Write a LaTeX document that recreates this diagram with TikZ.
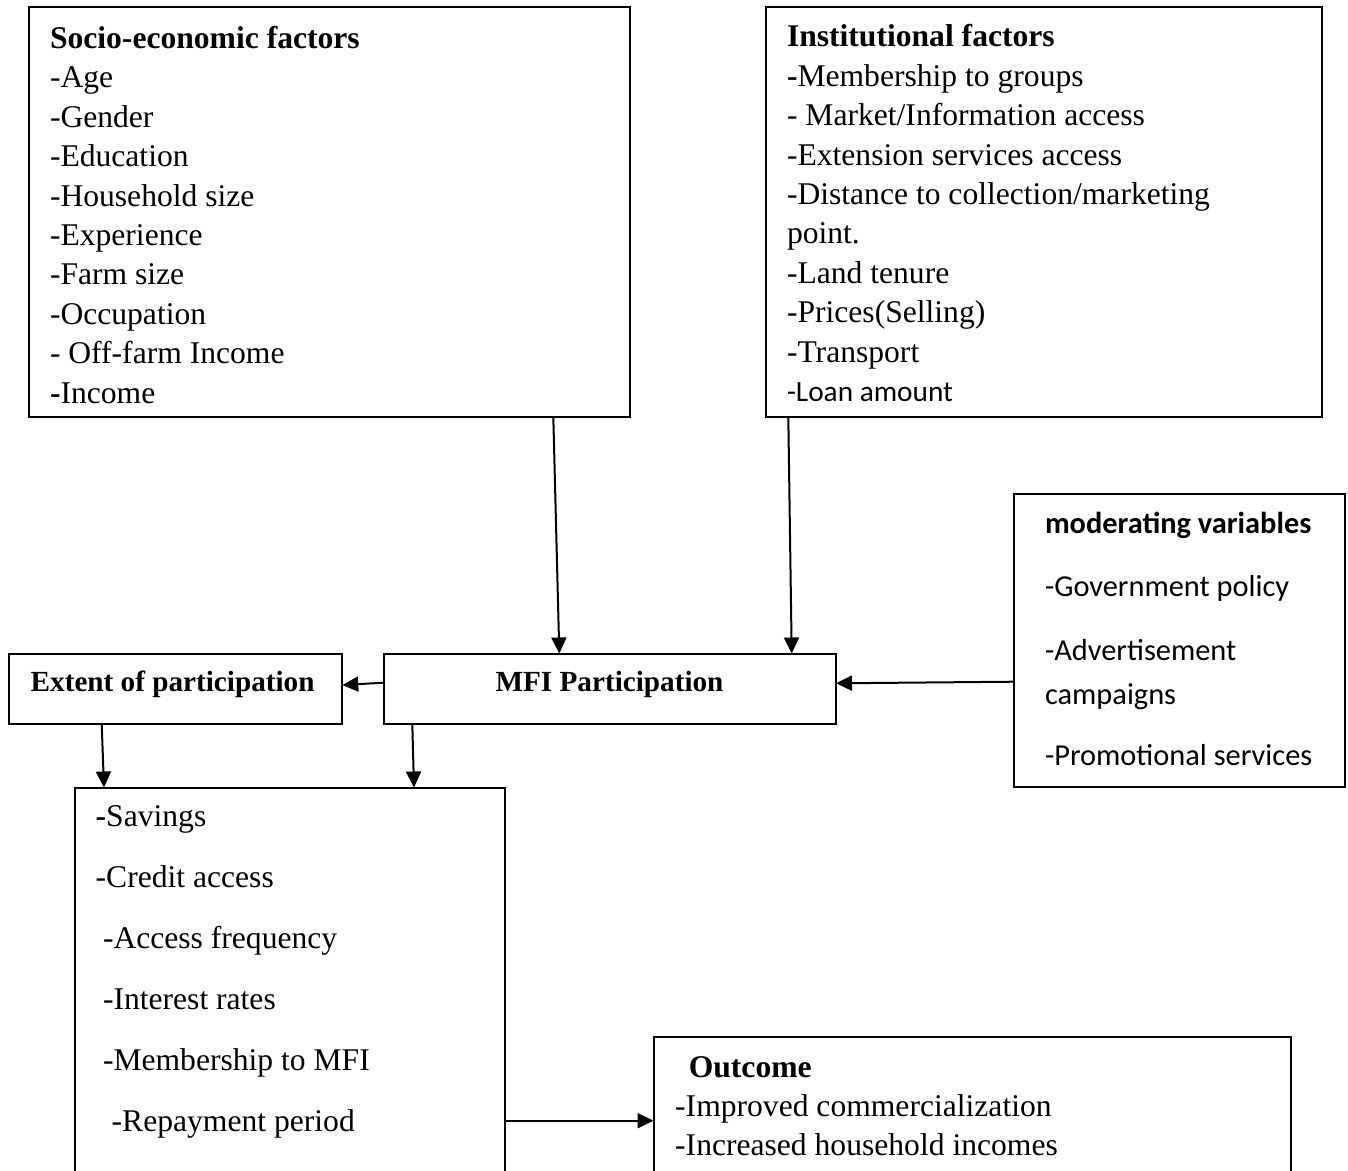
\documentclass[tikz,border=0pt]{standalone}
\usepackage{fontspec}
\setmainfont{Liberation Serif}
\newfontfamily\carl{Carlito}
\usetikzlibrary{arrows.meta}
\begin{document}
\begin{tikzpicture}[x=1pt,y=-1pt,
  box/.style={draw, line width=2pt, rectangle, inner sep=0pt, outer sep=0pt},
  arr/.style={line width=2pt, -{Triangle[length=16pt,width=15pt]}},
  txt/.style={inner sep=0pt, outer sep=0pt, anchor=base west, align=left},
  reg/.style={font=\fontsize{31.6}{39.44}\selectfont},
]
\useasboundingbox[fill=white] (0,0) rectangle (1348,1170);

% boxes
\node[box, minimum width=600.5pt, minimum height=410pt] (soc) at (329.25,212) {};
\node[box, minimum width=556pt, minimum height=410pt] (inst) at (1044,212) {};
\node[box, minimum width=331.5pt, minimum height=292.5pt] (mod) at (1179.25,640.25) {};
\node[box, minimum width=333pt, minimum height=70.5pt] (ext) at (175.8,688.75) {};
\node[box, minimum width=452pt, minimum height=70.5pt] (mfi) at (610,688.75) {};
\node[box, minimum width=430pt, minimum height=402.5pt] (sav) at (289.5,988.75) {};
\node[box, minimum width=637pt, minimum height=172.7pt] (out) at (972,1123.65) {};

% texts (anchored at the baseline of their last line)
\node[txt, reg] (soctxt) at (50,403.3) {\textbf{Socio-economic factors}\\-Age\\-Gender\\-Education\\-Household size\\-Experience\\-Farm size\\-Occupation\\- Off-farm Income\\\textbf{-}Income};

\node[txt, reg] (insttxt) at (787,401.7) {\textbf{Institutional factors}\\\textbf{-}Membership to groups\\- Market/Information access\\-Extension services access\\-Distance to collection/marketing\\point.\\-Land tenure\\-Prices(Selling)\\-Transport\\{\carl\fontsize{29.3}{39.44}\selectfont -Loan amount}};

\node[txt, font=\carl\fontsize{30.4}{44}\selectfont] (modtxt) at (1045,765.7) {\textbf{moderating variables}\\[19.4pt]-Government policy\\[19.3pt]-Advertisement\\campaigns\\[17.7pt]-Promotional services};

\node[txt, font=\fontsize{29.2}{35}\selectfont\bfseries] (exttxt) at (30.7,691) {Extent of participation};
\node[anchor=base, inner sep=0pt, font=\fontsize{29.2}{35}\selectfont\bfseries] (mfitxt) at (609.5,691.7) {MFI Participation};

\node[txt, font=\fontsize{31.6}{61}\selectfont] (savtxt) at (95.7,1131.7) {\textbf{-}Savings\\-Credit access\\\hspace*{7.3pt}-Access frequency\\\hspace*{7.3pt}-Interest rates\\\hspace*{7.3pt}-Membership to MFI\\\hspace*{16pt}-Repayment period};

\node[txt, font=\fontsize{31.6}{39}\selectfont] (outtxt) at (675.2,1155) {\hspace*{13.6pt}\textbf{Outcome}\\-Improved commercialization\\-Increased household incomes};

% connectors
\draw[arr] ([xshift=524.3pt]soc.south west) -- ([xshift=175.3pt]mfi.north west);
\draw[arr] ([xshift=22.3pt]inst.south west) -- ([xshift=407.7pt]mfi.north west);
\draw[arr] ([yshift=-41.45pt]mod.west) -- ([yshift=5.45pt]mfi.east);
\draw[arr] ([yshift=6.05pt]mfi.west) -- ([yshift=3.75pt]ext.east);
\draw[arr] ([xshift=92.4pt]ext.south west) -- ([xshift=29.5pt]sav.north west);
\draw[arr] ([xshift=28.3pt]mfi.south west) -- ([xshift=339.5pt]sav.north west);
\draw[arr] ([yshift=-333.2pt]sav.north east) -- ([yshift=-83.4pt]out.north west);
\end{tikzpicture}
\end{document}
